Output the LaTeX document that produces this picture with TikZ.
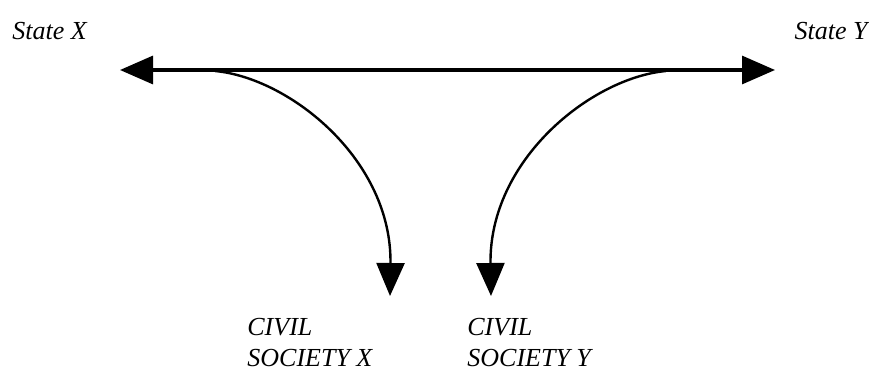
\documentclass[tikz,border=0pt]{standalone}
\usepackage{fontspec}
\setmainfont{Liberation Serif}
\usetikzlibrary{positioning, arrows.meta}

\begin{document}
\begin{tikzpicture}[
        x=0.5pt, y=-0.5pt,
        >={Triangle[length=16.5pt, width=14pt]},
        label/.style={inner sep=0pt, font=\fontsize{13}{15.5}\selectfont\itshape, align=left},
        axis/.style={line width=1.6pt},
        link/.style={line width=1.2pt},
      ]
      \useasboundingbox (0,0) rectangle (869,374);

      % States
      \node[label, anchor=base west] (stateX) at (12,40) {State X};
      \node[label, anchor=base east] (stateY) at (868,40) {State Y};

      % Civil societies (base = last line)
      \node[label, anchor=base west] (civilX) at (247,366) {CIVIL\\SOCIETY X};
      \node[label, anchor=base west] (civilY) at (467,366) {CIVIL\\SOCIETY Y};

      % Points on the line
      \coordinate (endX) at (120,70);
      \coordinate (endY) at (775,70);
      \coordinate (forkX) at (215,71);
      \coordinate (forkY) at (666,71);
      \coordinate (tipX) at (390,296);
      \coordinate (tipY) at (491,296);

      % Arrows
      \draw[axis, <->] (endX) -- (endY);
      \draw[link, ->] (forkX) .. controls (290,78) and (392,160) .. (tipX);
      \draw[link, ->] (forkY) .. controls (591,78) and (489,160) .. (tipY);

    \end{tikzpicture}
\end{document}
